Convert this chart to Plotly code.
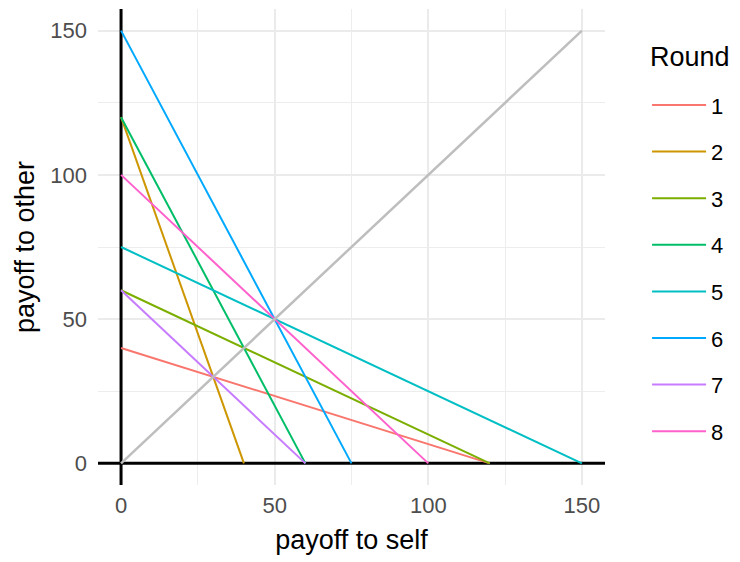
import plotly.graph_objects as go

rounds = ["1", "2", "3", "4", "5", "6", "7", "8"]
self_max = [120, 40, 120, 60, 150, 75, 60, 100]      # payoff to self when other gets 0
other_max = [40, 120, 60, 120, 75, 150, 60, 100]     # payoff to other when self gets 0
colors = ["#F8766D", "#CD9600", "#7CAE00", "#00BE67", "#00BFC4", "#00A9FF", "#C77CFF", "#FF61CC"]
diag_x = [0, 150]
diag_y = [0, 150]
tick_vals = [0, 50, 100, 150]
axis_range = [-7.5, 157.5]

FONT = "Liberation Sans, Arial, sans-serif"

fig = go.Figure()
# reference lines x = 0 and y = 0 across the whole panel
fig.add_trace(go.Scatter(x=[0, 0], y=axis_range, mode="lines", showlegend=False,
                         line=dict(color="black", width=3), hoverinfo="skip"))
fig.add_trace(go.Scatter(x=axis_range, y=[0, 0], mode="lines", showlegend=False,
                         line=dict(color="black", width=3), hoverinfo="skip"))
for r, sx, oy, c in zip(rounds, self_max, other_max, colors):
    fig.add_trace(go.Scatter(
        x=[0, sx], y=[oy, 0], mode="lines", name=r, legendgroup=r,
        line=dict(color=c, width=2), hoverinfo="skip"))
fig.add_trace(go.Scatter(
    x=diag_x, y=diag_y, mode="lines", showlegend=False,
    line=dict(color="#BEBEBE", width=2.5), hoverinfo="skip"))

axis_common = dict(
    range=axis_range, tickvals=tick_vals, ticks="", showline=False, zeroline=False,
    showgrid=True, gridcolor="#EBEBEB", gridwidth=1.6,
    minor=dict(dtick=25, tick0=0, showgrid=True, gridcolor="#EDEDED", gridwidth=1.2),
    tickfont=dict(family=FONT, size=22, color="#4D4D4D"),
    automargin=False,
)
fig.update_xaxes(**axis_common, ticklabelstandoff=5,
                 title=dict(text="payoff to self", font=dict(family=FONT, size=27, color="black"), standoff=13))
fig.update_yaxes(**axis_common, ticklabelstandoff=10,
                 title=dict(text="payoff to other", font=dict(family=FONT, size=27, color="black"), standoff=7))

fig.add_annotation(text="Round", xref="paper", yref="paper", x=1.0848, y=0.899,
                   xanchor="left", yanchor="middle", showarrow=False,
                   font=dict(family=FONT, size=27, color="black"))

fig.update_layout(
    width=740, height=562,
    margin=dict(l=98, r=135, t=9, b=77, autoexpand=False),
    paper_bgcolor="white", plot_bgcolor="white",
    font=dict(family=FONT),
    legend=dict(
        font=dict(family=FONT, size=22, color="black"),
        x=1.083, xanchor="left", y=0.842, yanchor="top",
        traceorder="grouped", tracegroupgap=15, itemwidth=54,
        bgcolor="rgba(0,0,0,0)",
    ),
)

fig.write_html("out.html", config={"displayModeBar": False},
               post_script="document.body.style.margin='0';")
